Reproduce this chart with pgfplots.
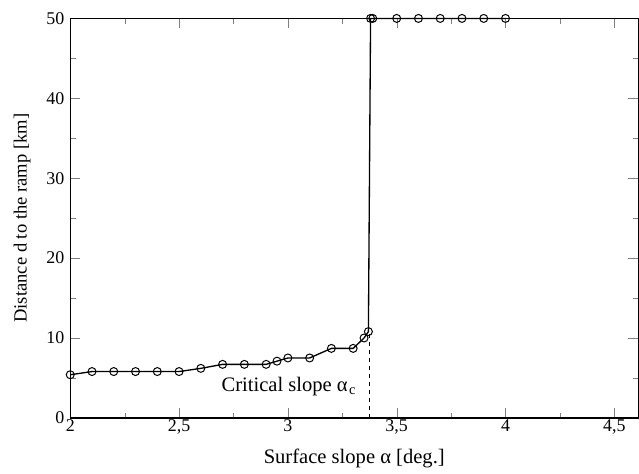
\documentclass[border={7pt 1pt 0pt 6pt}]{standalone}
\usepackage{pgfplots}
\pgfplotsset{compat=1.18}
\usepackage{fontspec}
\setmainfont{Liberation Serif}
\begin{document}
\begin{tikzpicture}
\begin{axis}[
    scale only axis,
    width=428pt, height=301pt,
    xmin=2, xmax=4.61,
    ymin=0, ymax=50,
    xtick={2,2.5,3,3.5,4,4.5},
    ytick={0,10,20,30,40,50},
    minor x tick num=1,
    minor y tick num=1,
    tick pos=both,
    tick align=inside,
    major tick length=7.5pt,
    minor tick length=4pt,
    /pgf/number format/use comma,
    /pgf/number format/assume math mode=true,
    ticklabel style={font=\fontsize{13.5}{16}\selectfont},
    xticklabel style={yshift=2pt},
    yticklabel style={xshift=-1pt},
    xlabel={Surface slope α [deg.]},
    ylabel={Distance d to the ramp [km]},
    xlabel style={font=\fontsize{15.5}{18}\selectfont, yshift=-4pt},
    ylabel style={font=\fontsize{14}{16}\selectfont, yshift=5pt},
    axis line style={line width=1.1pt},
    clip=false,
]
\addplot[black, line width=1pt, mark=o, mark size=3pt, mark options={line width=0.75pt}]
coordinates {
(2.0,5.4) (2.1,5.8) (2.2,5.8) (2.3,5.8) (2.4,5.8) (2.5,5.8)
(2.6,6.2) (2.7,6.7) (2.8,6.7) (2.9,6.7) (2.95,7.1) (3.0,7.5)
(3.1,7.5) (3.2,8.7) (3.3,8.7) (3.35,10.0) (3.37,10.8)
(3.38,50) (3.39,50) (3.5,50) (3.6,50) (3.7,50) (3.8,50) (3.9,50) (4.0,50)
};
\addplot[black, dashed, line width=0.6pt] coordinates {(3.375,0) (3.375,10.8)};
\node[anchor=east, font=\fontsize{15.5}{18}\selectfont] at (axis cs:3.335,3.9) {Critical slope α\kern1pt\textsubscript{c}};
\end{axis}
\end{tikzpicture}
\end{document}
